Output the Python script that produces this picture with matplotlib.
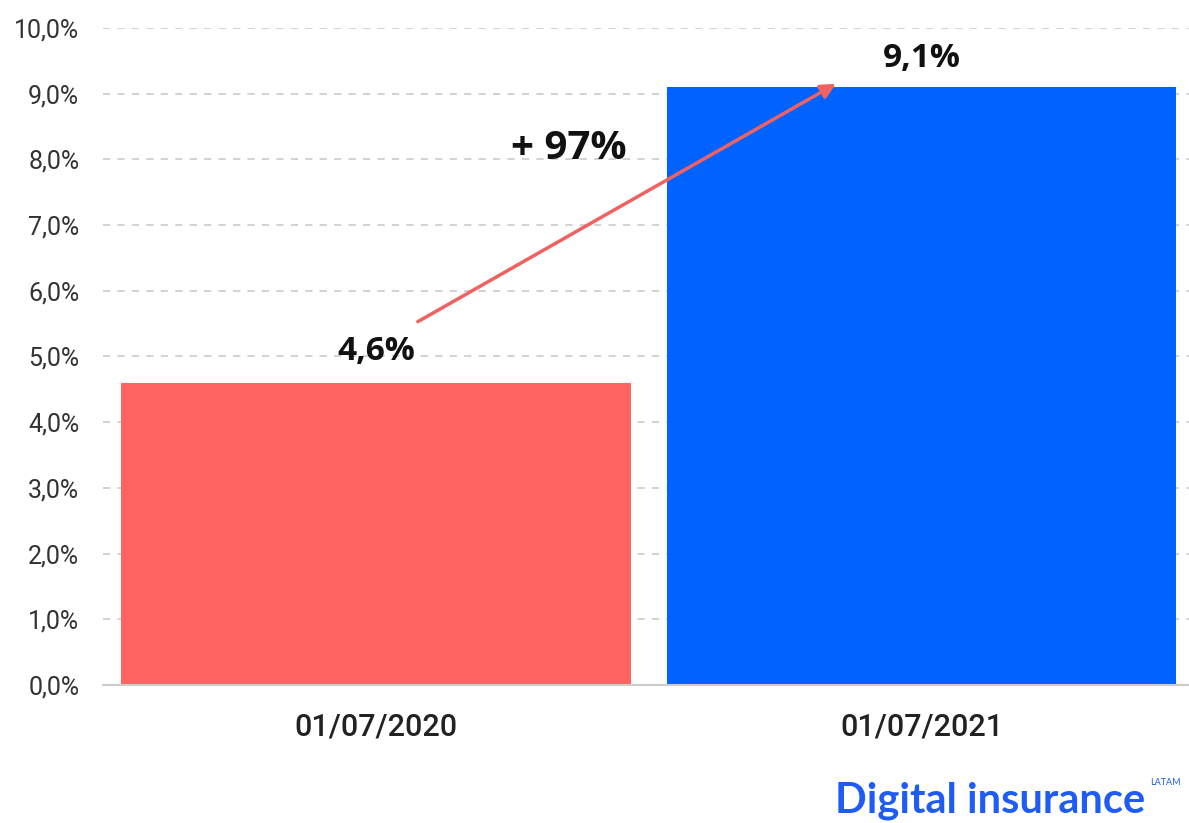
import matplotlib
matplotlib.use("Agg")
import matplotlib.pyplot as plt

dates = ["01/07/2020", "01/07/2021"]
shares = [4.6, 9.1]
value_labels = ["4,6%", "9,1%"]
growth_label = "+ 97%"
yticks = [0, 1, 2, 3, 4, 5, 6, 7, 8, 9, 10]
ytick_labels = ["0,0%", "1,0%", "2,0%", "3,0%", "4,0%", "5,0%",
                "6,0%", "7,0%", "8,0%", "9,0%", "10,0%"]

RED = "#ff6463"
BLUE = "#0062ff"

fig = plt.figure(figsize=(11.89, 8.23), dpi=100)
ax = fig.add_axes([0.0866, 0.1677, 0.9134, 0.7983])

x = [0, 1]
ax.bar(x, shares, width=0.934, color=[RED, BLUE], zorder=2)

ax.set_ylim(0, 10)
ax.set_xlim(-0.5, 1.49)
ax.set_yticks(yticks)
ax.set_yticklabels(ytick_labels, fontsize=18, family="Roboto", color="#333333")
ax.set_xticks(x)
ax.set_xticklabels(dates, fontsize=22, family="Roboto", fontweight="medium",
                   color="#222222")
ax.tick_params(length=0)
ax.tick_params(axis="y", pad=17)
ax.tick_params(axis="x", pad=20)

for y in yticks[1:]:
    ax.axhline(y, color="#cfcfcf", lw=1.3, ls=(0, (4, 4)), zorder=1)
for side in ["top", "right", "left"]:
    ax.spines[side].set_visible(False)
ax.spines["bottom"].set_color("#cccccc")
ax.spines["bottom"].set_linewidth(1.5)

# value labels above the bars
ax.text(0, 5.07, value_labels[0], ha="center", va="center", fontsize=24,
        fontweight="bold", family="Open Sans", color="#111111")
ax.text(1, 9.54, value_labels[1], ha="center", va="center", fontsize=24,
        fontweight="bold", family="Open Sans", color="#111111")

# growth arrow between the two values
ax.annotate("", xy=(0.843, 9.15), xytext=(0.077, 5.53),
            arrowprops=dict(arrowstyle="-|>", color="#f06262", lw=2.5,
                            mutation_scale=22, shrinkA=0, shrinkB=0), zorder=3)
ax.text(0.354, 8.17, growth_label, ha="center", va="center", fontsize=29,
        fontweight="bold", family="Open Sans", color="#111111")

fig.text(0.963, 0.027, "Digital insurance", ha="right", va="center",
         fontsize=30, fontweight="bold", family="Lato", color="#1f5cf5")
fig.text(0.967, 0.049, "LATAM", ha="left", va="center", fontsize=6.5,
         family="Lato", color="#1f5cf5")

fig.savefig("out.png", dpi=100)
